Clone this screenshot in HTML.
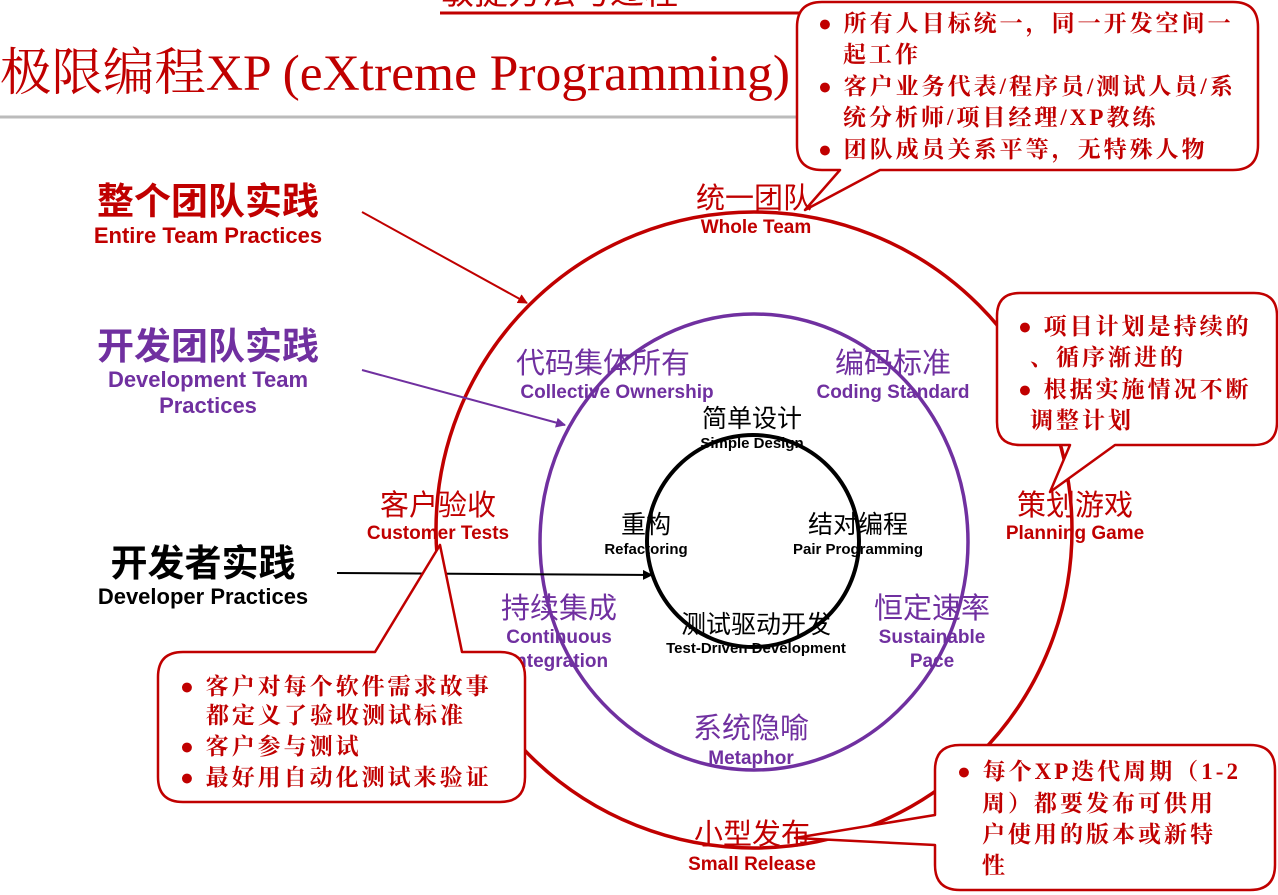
<!DOCTYPE html>
<html><head><meta charset="utf-8"><style>
body{margin:0;background:#fff;width:1278px;height:895px;overflow:hidden}
svg{display:block}
.s{font-family:"Liberation Sans","Noto Sans CJK SC",sans-serif}
.b{font-family:"Liberation Serif","Noto Serif CJK SC",serif;font-weight:bold;fill:#c00000;letter-spacing:3px}
</style></head><body>
<svg width="1278" height="895" viewBox="0 0 1278 895" xmlns="http://www.w3.org/2000/svg">
<defs>
<marker id="ar" markerWidth="10" markerHeight="10" refX="9" refY="5" orient="auto" markerUnits="userSpaceOnUse"><path d="M0,0 L10,5 L0,10 z" fill="#c00000"/></marker>
<marker id="ap" markerWidth="10" markerHeight="10" refX="9" refY="5" orient="auto" markerUnits="userSpaceOnUse"><path d="M0,0 L10,5 L0,10 z" fill="#7030a0"/></marker>
<marker id="ak" markerWidth="10" markerHeight="10" refX="9" refY="5" orient="auto" markerUnits="userSpaceOnUse"><path d="M0,0 L10,5 L0,10 z" fill="#000"/></marker>
</defs>
<text x="440" y="4" class="s" font-size="34" fill="#c00000">敏捷方法与过程</text>
<line x1="440" y1="13" x2="800" y2="13" stroke="#c00000" stroke-width="3"/>
<line x1="0" y1="117" x2="800" y2="117" stroke="#bbb" stroke-width="3"/>
<text x="0" y="90" font-family="Liberation Serif,'Noto Serif CJK SC',serif" font-size="51" fill="#c00000" textLength="790" lengthAdjust="spacingAndGlyphs">极限编程XP (eXtreme Programming)</text>

<circle cx="754" cy="530" r="318" fill="none" stroke="#c00000" stroke-width="3.5"/>
<ellipse cx="754" cy="542" rx="214" ry="228" fill="none" stroke="#7030a0" stroke-width="3.5"/>
<circle cx="753" cy="541" r="106" fill="none" stroke="#000" stroke-width="4"/>

<g class="s" font-weight="bold" text-anchor="middle">
<text x="208" y="214" font-size="37" fill="#c00000">整个团队实践</text>
<text x="208" y="243" font-size="22" fill="#c00000">Entire Team Practices</text>
<text x="208" y="359" font-size="37" fill="#7030a0">开发团队实践</text>
<text x="208" y="387" font-size="22" fill="#7030a0">Development Team</text>
<text x="208" y="413" font-size="22" fill="#7030a0">Practices</text>
<text x="203" y="576" font-size="37" fill="#000">开发者实践</text>
<text x="203" y="604" font-size="22" fill="#000">Developer Practices</text>
</g>
<line x1="362" y1="212" x2="527" y2="303" stroke="#c00000" stroke-width="2" marker-end="url(#ar)"/>
<line x1="362" y1="370" x2="565" y2="425" stroke="#7030a0" stroke-width="2" marker-end="url(#ap)"/>
<line x1="337" y1="573" x2="652" y2="575" stroke="#000" stroke-width="2" marker-end="url(#ak)"/>

<g class="s" text-anchor="middle">
<text x="754" y="208" font-size="29" fill="#c00000">统一团队</text>
<text x="756" y="233" font-size="19" font-weight="bold" fill="#c00000">Whole Team</text>
<text x="603" y="373" font-size="29" fill="#7030a0">代码集体所有</text>
<text x="617" y="398" font-size="19" font-weight="bold" fill="#7030a0">Collective Ownership</text>
<text x="893" y="373" font-size="29" fill="#7030a0">编码标准</text>
<text x="893" y="398" font-size="19" font-weight="bold" fill="#7030a0">Coding Standard</text>
<text x="752" y="427" font-size="25" fill="#000">简单设计</text>
<text x="752" y="448" font-size="15" font-weight="bold" fill="#000">Simple Design</text>
<text x="438" y="515" font-size="29" fill="#c00000">客户验收</text>
<text x="438" y="539" font-size="19" font-weight="bold" fill="#c00000">Customer Tests</text>
<text x="646" y="533" font-size="25" fill="#000">重构</text>
<text x="646" y="554" font-size="15" font-weight="bold" fill="#000">Refactoring</text>
<text x="858" y="533" font-size="25" fill="#000">结对编程</text>
<text x="858" y="554" font-size="15" font-weight="bold" fill="#000">Pair Programming</text>
<text x="1075" y="515" font-size="29" fill="#c00000">策划游戏</text>
<text x="1075" y="539" font-size="19" font-weight="bold" fill="#c00000">Planning Game</text>
<text x="559" y="618" font-size="29" fill="#7030a0">持续集成</text>
<text x="559" y="643" font-size="19" font-weight="bold" fill="#7030a0">Continuous</text>
<text x="559" y="667" font-size="19" font-weight="bold" fill="#7030a0">Integration</text>
<text x="756" y="633" font-size="25" fill="#000">测试驱动开发</text>
<text x="756" y="653" font-size="15" font-weight="bold" fill="#000">Test-Driven Development</text>
<text x="932" y="618" font-size="29" fill="#7030a0">恒定速率</text>
<text x="932" y="643" font-size="19" font-weight="bold" fill="#7030a0">Sustainable</text>
<text x="932" y="667" font-size="19" font-weight="bold" fill="#7030a0">Pace</text>
<text x="751" y="738" font-size="29" fill="#7030a0">系统隐喻</text>
<text x="751" y="764" font-size="19" font-weight="bold" fill="#7030a0">Metaphor</text>
<text x="752" y="844" font-size="29" fill="#c00000">小型发布</text>
<text x="752" y="870" font-size="19" font-weight="bold" fill="#c00000">Small Release</text>
</g>

<g fill="#fff" stroke="#c00000" stroke-width="2.5" stroke-linejoin="round">
<path d="M822,2 H1233 Q1258,2 1258,27 V145 Q1258,170 1233,170 H880 L805,210 L840,170 H822 Q797,170 797,145 V27 Q797,2 822,2 Z"/>
<path d="M1020,293 H1254 Q1277,293 1277,316 V422 Q1277,445 1254,445 H1115 L1050,492 L1070,445 H1020 Q997,445 997,422 V316 Q997,293 1020,293 Z"/>
<path d="M183,652 H375 L440,545 L462,652 H500 Q525,652 525,677 V777 Q525,802 500,802 H183 Q158,802 158,777 V677 Q158,652 183,652 Z"/>
<path d="M960,745 H1250 Q1275,745 1275,770 V865 Q1275,890 1250,890 H960 Q935,890 935,865 V845 L795,838 L935,815 V770 Q935,745 960,745 Z"/>
</g>
<g class="b" font-size="23">
<text x="818" y="31">● 所有人目标统一，同一开发空间一</text>
<text x="843" y="62">起工作</text>
<text x="818" y="94">● 客户业务代表/程序员/测试人员/系</text>
<text x="843" y="125">统分析师/项目经理/XP教练</text>
<text x="818" y="157">● 团队成员关系平等，无特殊人物</text>
<text x="1018" y="334">● 项目计划是持续的</text>
<text x="1030" y="365">、循序渐进的</text>
<text x="1018" y="397">● 根据实施情况不断</text>
<text x="1030" y="428">调整计划</text>
<text x="180" y="694">● 客户对每个软件需求故事</text>
<text x="206" y="723">都定义了验收测试标准</text>
<text x="180" y="754">● 客户参与测试</text>
<text x="180" y="785">● 最好用自动化测试来验证</text>
<text x="957" y="779">● 每个XP迭代周期（1-2</text>
<text x="982" y="811">周）都要发布可供用</text>
<text x="982" y="842">户使用的版本或新特</text>
<text x="982" y="873">性</text>
</g>
</svg>
</body></html>
